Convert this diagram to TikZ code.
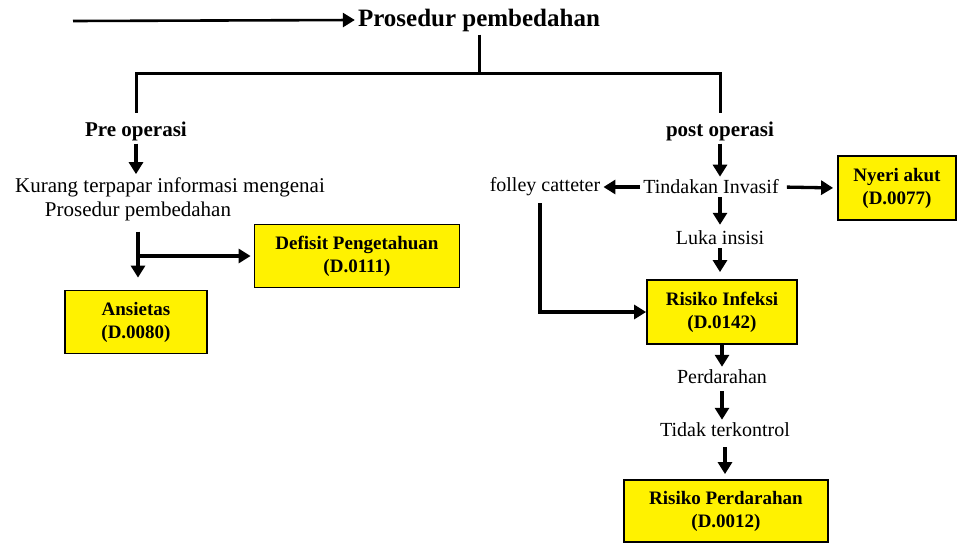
\documentclass[tikz,border=0pt]{standalone}
\usepackage{fontspec}
\setmainfont{Liberation Serif}
\usetikzlibrary{arrows.meta}

\begin{document}
\begin{tikzpicture}[x=1pt,y=-1pt,
  teks/.style={inner sep=3pt,font=\fontsize{20}{22}\selectfont},
  judul/.style={inner sep=3pt,font=\bfseries\fontsize{21}{23}\selectfont},
  kotak/.style={draw,line width=1.8pt,fill=yellow,align=center,inner sep=2pt,
    font=\bfseries\fontsize{19}{23}\selectfont},
  garis/.style={line width=3pt},
  panah/.style={line width=3.3pt,-{Triangle[length=12pt,width=14pt]}}]

\useasboundingbox (0,0) rectangle (958,544);

% definitions
\node[inner sep=3pt,font=\bfseries\fontsize{25}{28}\selectfont] (utama) at (479,20) {Prosedur pembedahan};
\coordinate (awal) at (73,21);
\coordinate (cabang) at (479,73);

\node[judul] (pre) at (136,131) {Pre operasi};
\node[judul] (post) at (720,131) {post operasi};

% pre operasi
\node[teks,font=\fontsize{21}{23}\selectfont] (kurang1) at (170,187) {Kurang terpapar informasi mengenai};
\node[teks,font=\fontsize{21}{23}\selectfont] (kurang2) at (138,211) {Prosedur pembedahan};
\node[kotak,minimum width=205pt,minimum height=63pt] (defisit) at (357,256) {Defisit Pengetahuan\\(D.0111)};
\node[kotak,minimum width=142pt,minimum height=63pt] (ansietas) at (136,322) {Ansietas\\(D.0080)};

% post operasi
\node[teks] (tindakan) at (711,187) {Tindakan Invasif};
\node[teks] (folley) at (545,187) {folley catteter};
\node[kotak,minimum width=118pt,minimum height=64pt] (nyeri) at (897,188) {Nyeri akut\\(D.0077)};
\node[teks] (luka) at (720,238) {Luka insisi};
\node[kotak,minimum width=150pt,minimum height=64pt] (infeksi) at (722,312) {Risiko Infeksi\\(D.0142)};
\node[teks] (perdarahan) at (722,377) {Perdarahan};
\node[teks] (tidak) at (725,430) {Tidak terkontrol};
\node[kotak,minimum width=204pt,minimum height=62pt] (risdarah) at (726,511) {Risiko Perdarahan\\(D.0012)};

% drawing
\draw[panah,line width=2.6pt] (awal) -- (utama.west);
\draw[garis] (utama.south) -- (cabang);
\draw[garis] (cabang) -| ([yshift=5pt]pre.north);
\draw[garis] (cabang) -| ([yshift=5pt]post.north);

\draw[panah] (pre.south) -- (pre.south |- kurang1.north);
\draw[panah,shorten <=8pt,shorten >=12pt] (kurang2.south) -- (kurang2.south |- ansietas.north);
\draw[panah,shorten >=3pt] (kurang2.south |- defisit.west) -- (defisit.west);

\draw[panah] (post.south) -- (post.south |- tindakan.north);
\draw[panah] (tindakan.west) -- (folley.east);
\draw[panah,shorten <=5pt,shorten >=4pt] (tindakan.east) -- (nyeri.west);
\draw[panah,shorten >=3pt] (tindakan.south -| post.south) -- (post.south |- luka.north);
\draw[panah,shorten >=7pt] (luka.south) -- (luka.south |- infeksi.north);
\draw[panah,shorten <=4pt] ([xshift=-5pt]folley.south) |- (infeksi.west);
\draw[panah] (infeksi.south) -- (infeksi.south |- perdarahan.north);
\draw[panah,shorten <=4pt] (perdarahan.south) -- (perdarahan.south |- tidak.north);
\draw[panah,shorten <=7pt,shorten >=5pt] (tidak.south) -- (tidak.south |- risdarah.north);
\end{tikzpicture}
\end{document}
